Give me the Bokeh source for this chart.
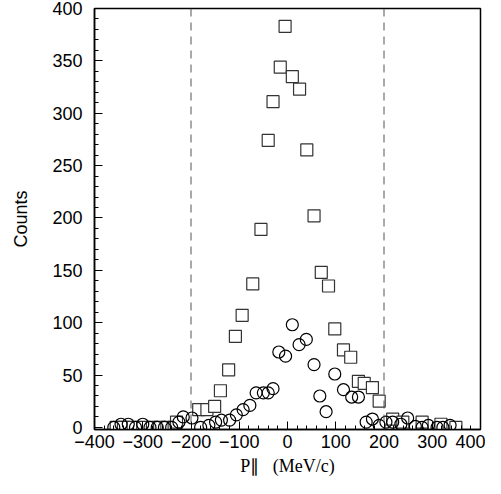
from bokeh.plotting import figure
from bokeh.models import Span, Range1d, SingleIntervalTicker
from bokeh.embed import file_html
from bokeh.resources import INLINE

sq_x = [-355, -340, -320, -300, -280, -265, -250, -235, -230, -184, -167, -151, -139, -122, -108, -94,
        -72, -55, -40, -30, -15, -5, 10, 25, 40, 55, 70, 85, 98, 116, 131, 147, 159, 176, 190,
        218, 239, 279, 318, 349]
sq_y = [0, 0, 0, 0, 0, 0, 0, 0, 5, 17, 17, 20, 35, 55, 87, 107,
        137, 189, 274, 311, 344, 383, 335, 323, 265, 202, 148, 135, 94, 74, 67, 44, 42, 38, 25,
        8, 5, 5, 3, 0]
ci_x = [-360, -345, -330, -315, -300, -285, -270, -255, -240, -225, -216, -198, -180, -163, -149, -137,
        -120, -106, -92, -78, -65, -50, -40, -30, -18, -4, 10, 24, 39, 55, 67, 80, 98, 116, 133, 147,
        163, 176, 190, 204, 218, 235, 249, 265, 279, 292, 310, 322, 337]
ci_y = [0, 3, 3, 0, 3, 0, 0, 0, 0, 5, 10, 9, 0, 2, 5, 7,
        7, 12, 17, 21, 33, 33, 33, 37, 72, 68, 98, 79, 84, 60, 30, 15, 51, 36, 29, 29,
        5, 8, 2, 5, 5, 3, 9, 1, 0, 2, 0, 0, 2]

p = figure(width=485, height=478, output_backend="svg", toolbar_location=None,
           x_range=Range1d(-400, 400), y_range=Range1d(-2, 400),
           min_border_left=94, min_border_right=5, min_border_top=8, min_border_bottom=5)
p.grid.visible = False
p.outline_line_color = "black"
p.outline_line_width = 1.5

p.scatter(sq_x, sq_y, marker="square", size=12, fill_color="white", line_color="#333333", line_width=1.2)
p.scatter(ci_x, ci_y, marker="circle", size=12, fill_color=None, line_color="black", line_width=1.2)

for xv in (-200, 200):
    p.add_layout(Span(location=xv, dimension="height", line_color="#555555", line_dash="8 6", line_width=1))

for ax in (p.xaxis[0], p.yaxis[0]):
    ax.major_label_text_font = "Liberation Sans"
    ax.major_label_text_font_size = "18px"
    ax.major_label_text_color = "black"
    ax.major_tick_in = 8
    ax.major_tick_out = 0
    ax.minor_tick_in = 4
    ax.minor_tick_out = 0
    ax.axis_line_width = 1.5
    ax.axis_label_text_color = "black"
    ax.axis_label_text_font_style = "normal"
    ax.axis_label_text_font_size = "18px"
p.xaxis.ticker = SingleIntervalTicker(interval=100, num_minor_ticks=5)
p.yaxis.ticker = SingleIntervalTicker(interval=50, num_minor_ticks=5)
p.yaxis.major_label_standoff = 12
p.yaxis.axis_label_standoff = 18
p.xaxis.axis_label = "P\u2225\u00a0\u00a0\u00a0(MeV/c)"
p.xaxis.axis_label_text_font = "Liberation Serif"
p.yaxis.axis_label = "Counts"
p.yaxis.axis_label_text_font = "Liberation Sans"

open("out.html", "w").write(file_html(p, INLINE))
